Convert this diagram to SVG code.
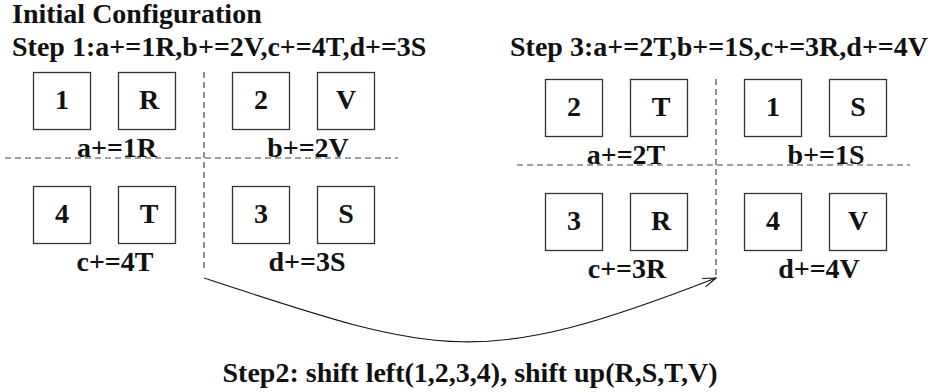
<svg xmlns="http://www.w3.org/2000/svg" width="940" height="392" viewBox="0 0 940 392">
<defs>
<style>
text{font-family:"Liberation Serif","Times New Roman",serif;font-weight:bold;font-size:28px;fill:#111}
.c{text-anchor:middle}
.box rect{fill:#fff;stroke:#333;stroke-width:1.3}
.div line{stroke:#444;stroke-width:1.2;stroke-dasharray:6 4}
.conn{fill:none;stroke:#111;stroke-width:1.1}
</style>
<marker id="arr" viewBox="0 0 14 10" refX="13" refY="5" markerWidth="14" markerHeight="10" markerUnits="userSpaceOnUse" orient="auto">
<polyline points="0,0.5 13,5 0,9.5" fill="none" stroke="#111" stroke-width="1.1"/>
</marker>
</defs>
<rect width="940" height="392" fill="#fff"/>

<text x="12" y="23">Initial Configuration</text>
<text x="12" y="56">Step 1:a+=1R,b+=2V,c+=4T,d+=3S</text>
<text x="510" y="56">Step 3:a+=2T,b+=1S,c+=3R,d+=4V</text>

<g class="div">
<line x1="204" y1="72" x2="204" y2="272"/>
<line x1="5" y1="158" x2="398" y2="158"/>
<line x1="716" y1="79" x2="716" y2="278"/>
<line x1="517" y1="165" x2="910" y2="165"/>
</g>

<!-- Step 1 panel -->
<g id="s1-1" class="box"><rect x="33.5" y="72.5" width="57" height="57"/><text class="c" x="62" y="108.5">1</text></g>
<g id="s1-R" class="box"><rect x="118.5" y="72.5" width="57" height="57"/><text class="c" x="149" y="108.5">R</text></g>
<g id="s1-2" class="box"><rect x="232.5" y="72.5" width="57" height="57"/><text class="c" x="261" y="108.5">2</text></g>
<g id="s1-V" class="box"><rect x="317.5" y="72.5" width="57" height="57"/><text class="c" x="346" y="108.5">V</text></g>
<g id="s1-4" class="box"><rect x="33.5" y="186.5" width="57" height="57"/><text class="c" x="62" y="222.5">4</text></g>
<g id="s1-T" class="box"><rect x="118.5" y="186.5" width="57" height="57"/><text class="c" x="149" y="222.5">T</text></g>
<g id="s1-3" class="box"><rect x="232.5" y="186.5" width="57" height="57"/><text class="c" x="261" y="222.5">3</text></g>
<g id="s1-S" class="box"><rect x="317.5" y="186.5" width="57" height="57"/><text class="c" x="346" y="222.5">S</text></g>
<g id="s1-labels">
<text class="c" x="117" y="157">a+=1R</text>
<text class="c" x="308" y="157">b+=2V</text>
<text class="c" x="115" y="271">c+=4T</text>
<text class="c" x="307" y="271">d+=3S</text>
</g>

<!-- Step 3 panel -->
<g id="s3-2" class="box"><rect x="545.5" y="79.5" width="57" height="57"/><text class="c" x="574" y="115.5">2</text></g>
<g id="s3-T" class="box"><rect x="630.5" y="79.5" width="57" height="57"/><text class="c" x="661" y="115.5">T</text></g>
<g id="s3-1" class="box"><rect x="744.5" y="79.5" width="57" height="57"/><text class="c" x="773" y="115.5">1</text></g>
<g id="s3-S" class="box"><rect x="829.5" y="79.5" width="57" height="57"/><text class="c" x="858" y="115.5">S</text></g>
<g id="s3-3" class="box"><rect x="545.5" y="193.5" width="57" height="57"/><text class="c" x="574" y="229.5">3</text></g>
<g id="s3-R" class="box"><rect x="630.5" y="193.5" width="57" height="57"/><text class="c" x="661" y="229.5">R</text></g>
<g id="s3-4" class="box"><rect x="744.5" y="193.5" width="57" height="57"/><text class="c" x="773" y="229.5">4</text></g>
<g id="s3-V" class="box"><rect x="829.5" y="193.5" width="57" height="57"/><text class="c" x="858" y="229.5">V</text></g>
<g id="s3-labels">
<text class="c" x="626" y="164">a+=2T</text>
<text class="c" x="826" y="164">b+=1S</text>
<text class="c" x="627" y="278">c+=3R</text>
<text class="c" x="819" y="278">d+=4V</text>
</g>

<g id="connectors">
<path class="conn" d="M204,278 C441,356 479,370 716,278" marker-end="url(#arr)"/>
</g>
<text class="c" x="470" y="382">Step2: shift left(1,2,3,4), shift up(R,S,T,V)</text>
</svg>
